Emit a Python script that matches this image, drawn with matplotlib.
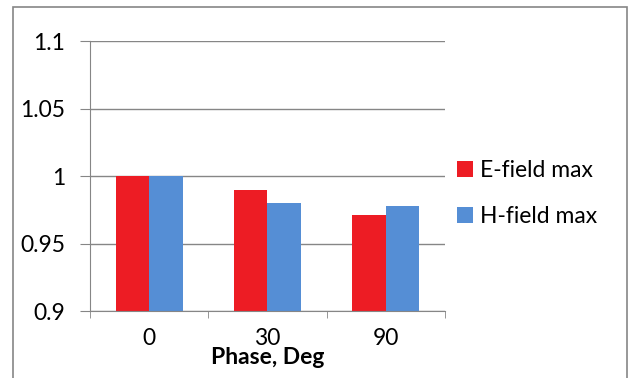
import matplotlib.pyplot as plt
import numpy as np
from matplotlib.patches import Rectangle

phases = ["0", "30", "90"]
e_field = [1.0, 0.99, 0.971]
h_field = [1.0, 0.98, 0.978]
y_ticks = [0.9, 0.95, 1.0, 1.05, 1.1]
y_labels = ["0.9", "0.95", "1", "1.05", "1.1"]

red = "#ED1C24"
blue = "#558ED5"
grey = "#868686"
fs = 16.5

plt.rcParams['font.family'] = ['Lato', 'DejaVu Sans']

fig = plt.figure(figsize=(6.35, 3.78), dpi=100)
# outer chart frame (bottom edge falls off the picture)
fig.patches.append(Rectangle((0.0205, -0.1), 0.967, 1.082, transform=fig.transFigure,
                             fill=False, edgecolor=grey, linewidth=1.2))

ax = fig.add_axes([0.1417, 0.1772, 0.559, 0.7143])
x = np.arange(len(phases))
w = 0.283
ax.bar(x - w / 2, np.array(e_field) - 0.9, w, bottom=0.9, color=red, label="E-field max", zorder=3)
ax.bar(x + w / 2, np.array(h_field) - 0.9, w, bottom=0.9, color=blue, label="H-field max", zorder=3)

ax.set_xlim(-0.5, 2.5)
ax.set_ylim(0.9, 1.1)
ax.set_yticks(y_ticks)
ax.set_yticklabels(y_labels, fontsize=fs)
ax.set_xticks(x)
ax.set_xticklabels(phases, fontsize=fs)
ax.set_xticks(np.arange(-0.5, 3.0, 1.0), minor=True)
ax.tick_params(axis='x', which='major', length=0, pad=12)
ax.tick_params(axis='x', which='minor', length=5, color=grey, direction='out')
ax.tick_params(axis='y', length=7, color=grey, direction='out', pad=11)
ax.grid(axis='y', color=grey, linewidth=1, zorder=0)
for s in ['top', 'right']:
    ax.spines[s].set_visible(False)
for s in ['left', 'bottom']:
    ax.spines[s].set_color(grey)
    ax.spines[s].set_zorder(4)

ax.set_xlabel("Phase, Deg", fontsize=fs, fontweight='bold', labelpad=-1)

fig.legend(loc='center left', bbox_to_anchor=(0.7197, 0.488), frameon=False, fontsize=fs,
           borderpad=0, borderaxespad=0, handlelength=0.7, handleheight=0.7,
           handletextpad=0.3, labelspacing=1.1)

fig.savefig("out.png", dpi=100)
